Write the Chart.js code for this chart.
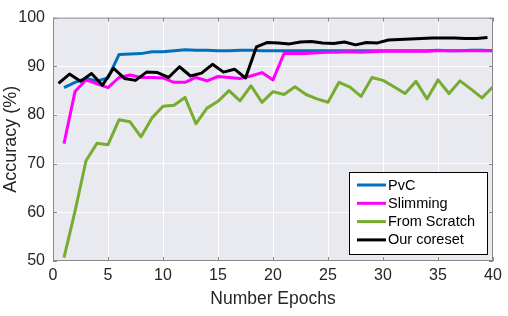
<!DOCTYPE html>
<html>
<head>
<meta charset="utf-8">
<title>Accuracy vs epochs</title>
<script src="https://cdn.jsdelivr.net/npm/chart.js@4.4.0/dist/chart.umd.min.js"></script>
<style>
  html, body { margin: 0; padding: 0; background: #fff; }
</style>
</head>
<body>
<canvas id="chartAcc" width="508" height="316"></canvas>
<script>
// Datos
const epochs = [1, 2, 3, 4, 5, 6, 7, 8, 9, 10, 11, 12, 13, 14, 15, 16, 17, 18, 19, 20,
    21, 22, 23, 24, 25, 26, 27, 28, 29, 30, 31, 32, 33, 34, 35, 36, 37, 38, 39, 40];
const coresetEpochs = [0.5, 1.5, 2.5, 3.5, 4.5, 5.5, 6.5, 7.5, 8.5, 9.5, 10.5, 11.5, 12.5, 13.5,
    14.5, 15.5, 16.5, 17.5, 18.5, 19.5, 20.5, 21.5, 22.5, 23.5, 24.5, 25.5, 26.5, 27.5, 28.5,
    29.5, 30.5, 31.5, 32.5, 33.5, 34.5, 35.5, 36.5, 37.5, 38.5, 39.5];

const pvc = [85.6, 86.7, 87.5, 87.0, 87.6, 92.4, 92.5, 92.6, 93.0, 93.0, 93.2, 93.4, 93.3, 93.3,
    93.2, 93.2, 93.3, 93.3, 93.2, 93.2, 93.2, 93.2, 93.2, 93.2, 93.2, 93.2, 93.2, 93.2, 93.2,
    93.2, 93.2, 93.2, 93.2, 93.2, 93.3, 93.2, 93.2, 93.3, 93.3, 93.2];
const slimming = [74.1, 84.8, 87.2, 86.4, 85.6, 87.7, 88.2, 87.7, 87.7, 87.6, 86.7, 86.7, 87.7,
    87.0, 87.9, 87.7, 87.5, 88.0, 88.7, 87.2, 92.6, 92.7, 92.6, 92.8, 92.9, 92.9, 93.0, 92.9,
    93.0, 93.1, 93.1, 93.1, 93.1, 93.1, 93.2, 93.2, 93.2, 93.2, 93.2, 93.2];
const scratch = [50.7, 60.2, 70.6, 74.2, 73.9, 79.0, 78.6, 75.5, 79.4, 81.8, 82.0, 83.6, 78.2,
    81.4, 82.8, 85.0, 82.9, 86.0, 82.6, 84.8, 84.2, 85.8, 84.2, 83.3, 82.6, 86.7, 85.7, 83.8,
    87.7, 87.1, 85.8, 84.4, 86.9, 83.3, 87.2, 84.4, 87.0, 85.3, 83.5, 85.8];
const coreset = [86.5, 88.4, 86.9, 88.5, 86.1, 89.6, 87.5, 87.1, 88.8, 88.7, 87.7, 89.9, 88.0,
    88.6, 90.4, 88.8, 89.4, 87.6, 94.0, 94.9, 94.8, 94.6, 95.0, 95.1, 94.8, 94.7, 95.0, 94.4,
    94.9, 94.8, 95.4, 95.5, 95.6, 95.7, 95.8, 95.8, 95.8, 95.7, 95.7, 95.9];

const seriesLabels = ['PvC', 'Slimming', 'From Scratch', 'Our coreset'];
const seriesColors = ['#0072bd', '#ff00ff', '#77ac30', '#000000'];

const FUENTE = '"Liberation Sans", Arial, Helvetica, sans-serif';
const TEXTO = '#262626';
const EJE = '#8a8a8a';

function puntos(xs, ys) {
    return xs.map((x, i) => ({ x: x, y: ys[i] }));
}

// Fondo gris del área de trazado
const fondoArea = {
    id: 'fondoArea',
    beforeDraw(chart) {
        const { ctx, chartArea: a } = chart;
        ctx.save();
        ctx.fillStyle = '#e9eaf0';
        ctx.fillRect(a.left, a.top, a.right - a.left, a.bottom - a.top);
        ctx.restore();
    }
};

// Caja con marcas hacia dentro (estilo MATLAB) + leyenda interior
const cajaYLeyenda = {
    id: 'cajaYLeyenda',
    afterDraw(chart) {
        const { ctx, chartArea: a, scales } = chart;
        ctx.save();
        ctx.strokeStyle = EJE;
        ctx.lineWidth = 1;
        ctx.strokeRect(a.left + 0.5, a.top + 0.5, a.right - a.left - 1, a.bottom - a.top - 1);
        const largo = 4;
        ctx.beginPath();
        scales.x.ticks.forEach(t => {
            const px = Math.round(scales.x.getPixelForValue(t.value)) + 0.5;
            ctx.moveTo(px, a.bottom); ctx.lineTo(px, a.bottom - largo);
            ctx.moveTo(px, a.top); ctx.lineTo(px, a.top + largo);
        });
        scales.y.ticks.forEach(t => {
            const py = Math.round(scales.y.getPixelForValue(t.value)) + 0.5;
            ctx.moveTo(a.left, py); ctx.lineTo(a.left + largo, py);
            ctx.moveTo(a.right, py); ctx.lineTo(a.right - largo, py);
        });
        ctx.stroke();

        // Leyenda
        const w = 138, h = 82;
        const x0 = Math.round(a.right - 6 - w) + 0.5;
        const y0 = Math.round(a.bottom - 7 - h) + 0.5;
        ctx.fillStyle = '#ffffff';
        ctx.fillRect(x0, y0, w, h);
        ctx.strokeStyle = '#000000';
        ctx.strokeRect(x0, y0, w, h);
        ctx.font = '14.5px ' + FUENTE;
        ctx.textBaseline = 'middle';
        ctx.textAlign = 'left';
        chart.data.datasets.forEach((ds, i) => {
            const yy = y0 + 12.5 + i * 18.3;
            ctx.strokeStyle = ds.borderColor;
            ctx.lineWidth = 3;
            ctx.beginPath();
            ctx.moveTo(x0 + 7.5, yy);
            ctx.lineTo(x0 + 36.5, yy);
            ctx.stroke();
            ctx.fillStyle = '#000000';
            ctx.fillText(ds.label, x0 + 38.5, yy + 0.5);
        });
        ctx.restore();
    }
};

const datasets = [
    { label: seriesLabels[0], data: puntos(epochs, pvc), borderColor: seriesColors[0], order: 4 },
    { label: seriesLabels[1], data: puntos(epochs, slimming), borderColor: seriesColors[1], order: 3 },
    { label: seriesLabels[2], data: puntos(epochs, scratch), borderColor: seriesColors[2], order: 2 },
    { label: seriesLabels[3], data: puntos(coresetEpochs, coreset), borderColor: seriesColors[3], order: 1 }
].map(d => Object.assign(d, {
    borderWidth: 3,
    pointRadius: 0,
    tension: 0,
    fill: false,
    borderJoinStyle: 'round'
}));

new Chart(document.getElementById('chartAcc').getContext('2d'), {
    type: 'line',
    data: { datasets: datasets },
    options: {
        responsive: false,
        animation: false,
        layout: { padding: { top: 17, right: 15, left: 0, bottom: 0 } },
        plugins: { legend: { display: false }, tooltip: { enabled: false } },
        scales: {
            x: {
                type: 'linear',
                min: 0, max: 40,
                afterFit: s => { s.height = 55; },
                ticks: { stepSize: 5, color: TEXTO, padding: 5, font: { family: FUENTE, size: 16 } },
                grid: { color: '#ffffff', lineWidth: 1, drawTicks: false },
                border: { display: false },
                title: { display: true, text: 'Number Epochs', color: TEXTO,
                    font: { family: FUENTE, size: 17.5 }, padding: { top: 0, bottom: 6 } }
            },
            y: {
                min: 50, max: 100,
                afterFit: s => { s.width = 53; },
                ticks: { stepSize: 10, color: TEXTO, padding: 8, font: { family: FUENTE, size: 16 } },
                grid: { color: '#ffffff', lineWidth: 1, drawTicks: false },
                border: { display: false },
                title: { display: true, text: 'Accuracy (%)', color: TEXTO,
                    font: { family: FUENTE, size: 18 }, padding: { top: 0, bottom: 0 } }
            }
        }
    },
    plugins: [fondoArea, cajaYLeyenda]
});
</script>
</body>
</html>
